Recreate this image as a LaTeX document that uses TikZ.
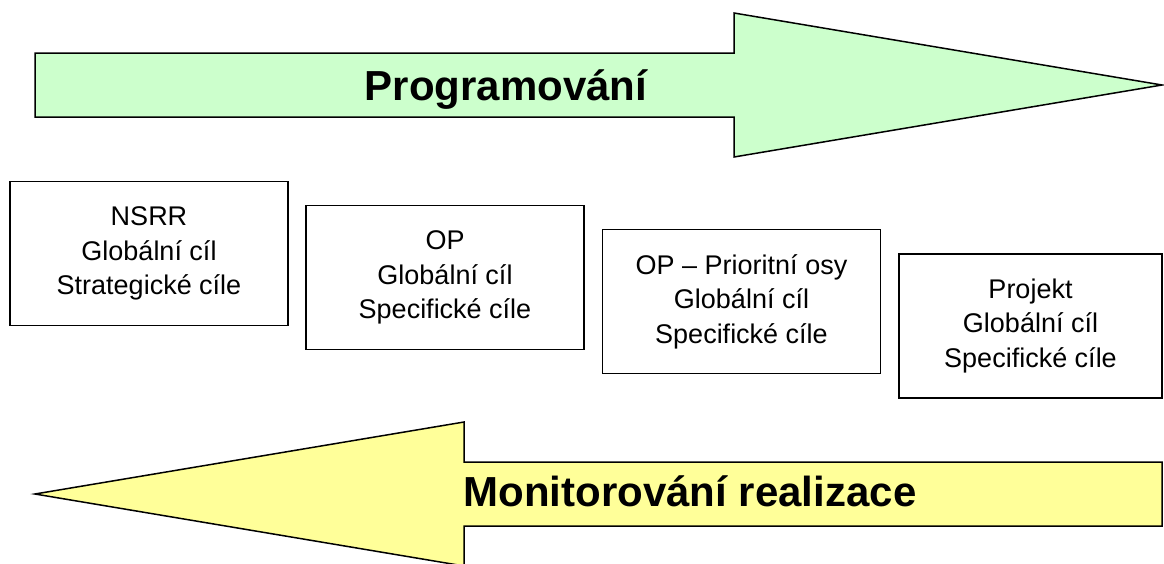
\documentclass[tikz,border=0pt]{standalone}
\usepackage{fontspec}
\setmainfont{Liberation Sans}
\definecolor{pgreen}{HTML}{CCFFCC}
\definecolor{pyellow}{HTML}{FFFF99}
\begin{document}
\begin{tikzpicture}[x=1pt,y=-1pt,
  bigarrow/.style={draw=black,line width=1.5pt,line join=miter},
  goalbox/.style={draw=black,line width=1.5pt,minimum width=278pt,minimum height=144pt,
    align=center,inner sep=0pt,font=\fontsize{27}{34.5}\selectfont},
  arrowlabel/.style={anchor=base,inner sep=0pt,font=\fontsize{42}{50}\selectfont\bfseries}]
\useasboundingbox (0,0) rectangle (1164,563);
% arrows
\draw[bigarrow,fill=pgreen] (35,53) -- (734,53) -- (734,13) -- (1162,85) -- (734,157) -- (734,117) -- (35,117) -- cycle;
\draw[bigarrow,fill=pyellow] (1162,462) -- (464,462) -- (464,422) -- (35,494) -- (464,566) -- (464,526) -- (1162,526) -- cycle;
\node[arrowlabel] (prog) at (506,100) {Programování};
\node[arrowlabel] (mon) at (690,506) {Monitorování realizace};
% boxes
\node[goalbox] (nsrr) at (149,253.5) {NSRR\\Globální cíl\\Strategické cíle};
\node[goalbox] (op) at (445,277.5) {OP\\Globální cíl\\Specifické cíle};
\node[goalbox] (osy) at (741.5,301.5) {OP – Prioritní osy\\Globální cíl\\Specifické cíle};
\node[goalbox,minimum width=263pt] (proj) at (1030.5,326) {Projekt\\Globální cíl\\Specifické cíle};
\end{tikzpicture}
\end{document}
